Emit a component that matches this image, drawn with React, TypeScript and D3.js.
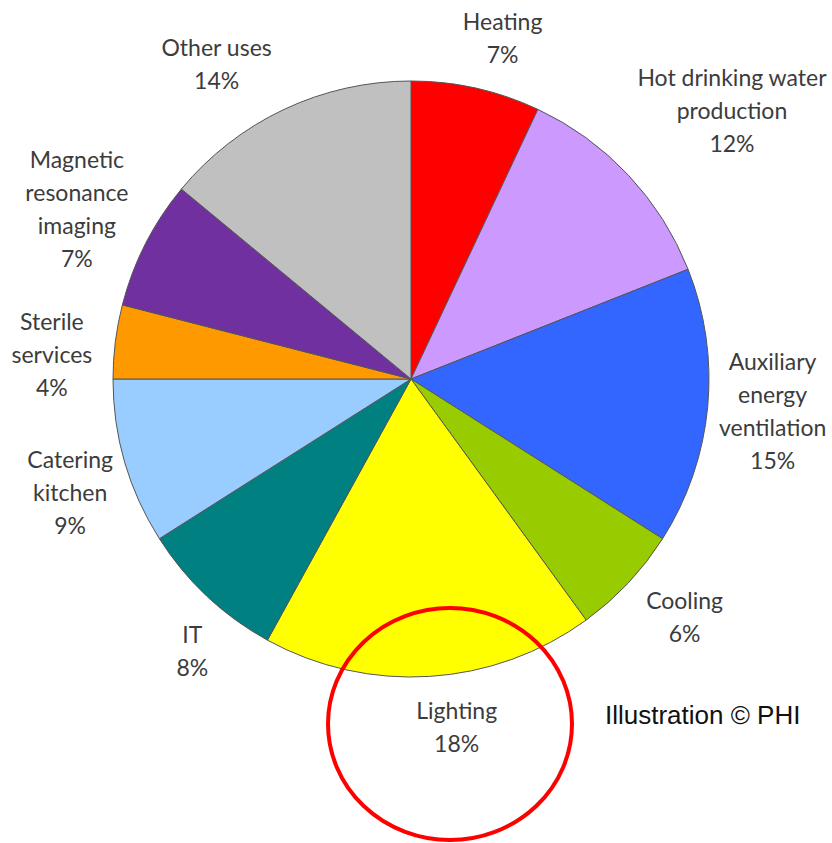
import React from "react";
import * as d3 from "d3";

const categories = [
  "Heating",
  "Hot drinking water production",
  "Auxiliary energy ventilation",
  "Cooling",
  "Lighting",
  "IT",
  "Catering kitchen",
  "Sterile services",
  "Magnetic resonance imaging",
  "Other uses",
];
const values = [7, 12, 15, 6, 18, 8, 9, 4, 7, 14];
const labelLines = [
  ["Heating"],
  ["Hot drinking water", "production"],
  ["Auxiliary", "energy", "ventilation"],
  ["Cooling"],
  ["Lighting"],
  ["IT"],
  ["Catering", "kitchen"],
  ["Sterile", "services"],
  ["Magnetic", "resonance", "imaging"],
  ["Other uses"],
];
const colors = [
  "#FF0000",
  "#CC99FF",
  "#3366FF",
  "#99CC00",
  "#FFFF00",
  "#008080",
  "#99CCFF",
  "#FF9900",
  "#7030A0",
  "#C0C0C0",
];
// label layout tweaks: [angle offset in degrees, label radius]
const labelLayout: [number, number][] = [
  [2.4, 354],
  [3.2, 419],
  [-0.4, 363],
  [-2.3, 362],
  [-3.9, 350],
  [-4.4, 349],
  [-2.1, 359],
  [-3.2, 360],
  [0, 375],
  [-6.4, 371],
];

const W = 832;
const H = 843;
const cx = 411;
const cy = 379;
const R = 298;
const lineH = 33;

export default function App() {
  const data = categories.map((c, i) => ({ c, v: values[i], i }));
  const pie = d3
    .pie<{ c: string; v: number; i: number }>()
    .sort(null)
    .value((d) => d.v)
    .startAngle(0)
    .endAngle(2 * Math.PI);
  const arcs = pie(data);
  const arc = d3
    .arc<d3.PieArcDatum<{ c: string; v: number; i: number }>>()
    .innerRadius(0)
    .outerRadius(R);

  return (
    <svg
      width={W}
      height={H}
      style={{ position: "absolute", left: 0, top: 0, background: "#fff" }}
    >
      <rect width={W} height={H} fill="#fff" />
      <g transform={`translate(${cx},${cy})`}>
        {arcs.map((a) => (
          <path
            key={a.data.c}
            d={arc(a) || ""}
            fill={colors[a.data.i]}
            stroke="#555"
            strokeWidth={1}
          />
        ))}
        {arcs.map((a) => {
          const i = a.data.i;
          const mid = (a.startAngle + a.endAngle) / 2;
          const ang = mid + (labelLayout[i][0] * Math.PI) / 180;
          const rr = labelLayout[i][1];
          const x = Math.sin(ang) * rr;
          const y = -Math.cos(ang) * rr;
          const lines = [...labelLines[i], `${values[i]}%`];
          const top = y - ((lines.length - 1) * lineH) / 2;
          return (
            <text
              key={"l" + a.data.c}
              x={x}
              y={top}
              textAnchor="middle"
              dominantBaseline="central"
              fontFamily="Lato, 'Open Sans', sans-serif"
              fontSize={23}
              fill="#3c3c3c"
            >
              {lines.map((l, k) => (
                <tspan key={k} x={x} y={top + k * lineH}>
                  {l}
                </tspan>
              ))}
            </text>
          );
        })}
      </g>
      <text
        x={605}
        y={715}
        dominantBaseline="central"
        fontFamily="'Liberation Sans', Arial, sans-serif"
        fontSize={26}
        fill="#111"
      >
        Illustration © PHI
      </text>
      <ellipse
        cx={450}
        cy={724}
        rx={122}
        ry={116}
        fill="none"
        stroke="#FF0000"
        strokeWidth={4}
      />
    </svg>
  );
}
